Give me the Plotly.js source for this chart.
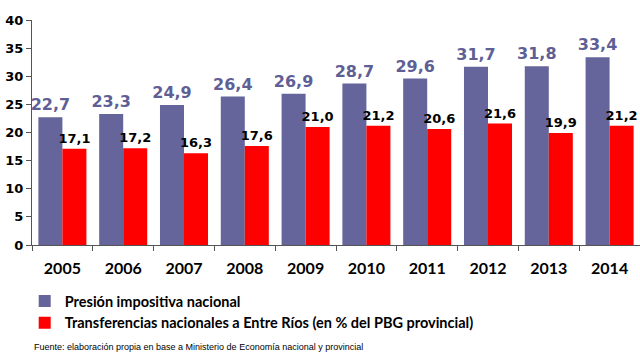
<!DOCTYPE html>
<html>
<head>
<meta charset="utf-8">
<script src="https://cdn.plot.ly/plotly-3.0.1.min.js"></script>
<style>html,body{margin:0;padding:0;background:#fff;overflow:hidden}#chart{width:640px;height:360px}</style>
</head>
<body>
<div id="chart"></div>
<script>
const years = ['2005','2006','2007','2008','2009','2010','2011','2012','2013','2014'];
const presion = [22.7, 23.3, 24.9, 26.4, 26.9, 28.7, 29.6, 31.7, 31.8, 33.4];
const transferencias = [17.1, 17.2, 16.3, 17.6, 21.0, 21.2, 20.6, 21.6, 19.9, 21.2];
const seriesNames = ['Presión impositiva nacional', 'Transferencias nacionales a Entre Ríos (en % del PBG provincial)'];
const yTicks = [0, 5, 10, 15, 20, 25, 30, 35, 40];
const fmt = v => v.toFixed(1).replace('.', ',');

const traces = [
  {
    type: 'bar', x: years, y: presion, name: seriesNames[0],
    marker: {color: '#65659b'},
    text: presion.map(fmt), textposition: 'outside', cliponaxis: false,
    constraintext: 'none',
    textfont: {family: 'DejaVu Sans', size: 16, color: '#5f5f96', weight: 'bold'},
    hoverinfo: 'none'
  },
  {
    type: 'bar', x: years, y: transferencias, name: seriesNames[1],
    marker: {color: '#ff0000'},
    text: transferencias.map(fmt), textposition: 'outside', cliponaxis: false,
    constraintext: 'none',
    textfont: {family: 'DejaVu Sans', size: 13, color: '#000000', weight: 'bold'},
    hoverinfo: 'none'
  }
];

const layout = {
  width: 640, height: 360,
  margin: {l: 32, r: 0, t: 20, b: 115},
  paper_bgcolor: '#ffffff', plot_bgcolor: '#ffffff',
  barmode: 'group', bargap: 0.21, bargroupgap: 0,
  showlegend: true,
  legend: {
    orientation: 'v', x: -0.012, xanchor: 'left', y: -0.178, yanchor: 'top',
    font: {family: 'Lato', size: 14.5, color: '#000', weight: 'bold'},
    itemwidth: 30, tracegroupgap: 4, bgcolor: 'rgba(0,0,0,0)'
  },
  xaxis: {
    type: 'category', showline: true, linecolor: '#555', linewidth: 1,
    ticks: 'outside', tickson: 'boundaries', ticklen: 5, tickcolor: '#555',
    ticklabelstandoff: 9,
    tickfont: {family: 'Lato', size: 16, color: '#000', weight: 'bold'},
    showgrid: false, zeroline: false
  },
  yaxis: {
    range: [0, 40], tickvals: yTicks, ticktext: yTicks.map(String),
    showline: true, linecolor: '#555', linewidth: 1,
    ticks: 'outside', ticklen: 5, tickcolor: '#555',
    tickfont: {family: 'DejaVu Sans', size: 13, color: '#000', weight: 'bold'},
    showgrid: false, zeroline: false
  },
  annotations: [{
    text: 'Fuente: elaboración propia en base a Ministerio de Economía nacional y provincial',
    xref: 'paper', yref: 'paper', x: 0.0, y: -0.455, xanchor: 'left', yanchor: 'middle',
    showarrow: false, font: {family: 'Liberation Sans', size: 9, color: '#000'}
  }]
};

Plotly.newPlot('chart', traces, layout, {displayModeBar: false, staticPlot: true});
</script>
</body>
</html>
